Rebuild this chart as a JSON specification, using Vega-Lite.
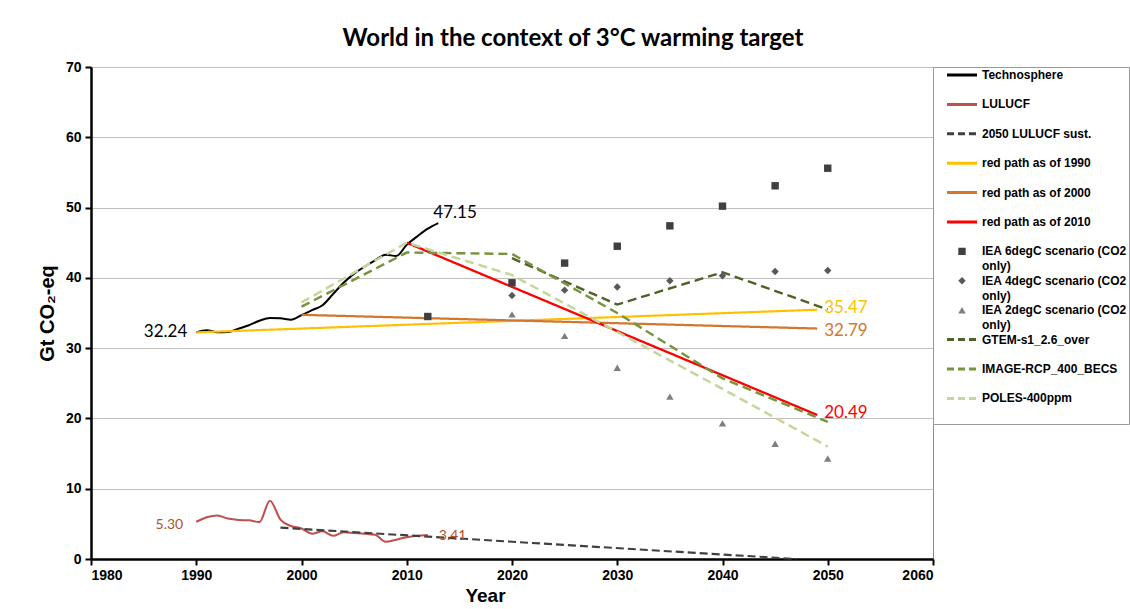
{
  "$schema": "https://vega.github.io/schema/vega-lite/v6.json",
  "width": 842,
  "height": 492,
  "autosize": "none",
  "padding": {"left": 91, "top": 67, "right": 197, "bottom": 50},
  "background": "white",
  "title": {"text": "World in the context of 3°C warming target", "font": "Lato", "fontWeight": "bold", "fontSize": 24, "anchor": "middle", "dx": 61, "offset": 9, "color": "#000000"},
  "datasets": {
    "lines": [
      {"series": "Technosphere", "year": 1990, "value": 32.24},
      {"series": "Technosphere", "year": 1991, "value": 32.55},
      {"series": "Technosphere", "year": 1992, "value": 32.25},
      {"series": "Technosphere", "year": 1993, "value": 32.3},
      {"series": "Technosphere", "year": 1994, "value": 32.75},
      {"series": "Technosphere", "year": 1995, "value": 33.25},
      {"series": "Technosphere", "year": 1996, "value": 33.9},
      {"series": "Technosphere", "year": 1997, "value": 34.3},
      {"series": "Technosphere", "year": 1998, "value": 34.25},
      {"series": "Technosphere", "year": 1999, "value": 34.05},
      {"series": "Technosphere", "year": 2000, "value": 34.7},
      {"series": "Technosphere", "year": 2001, "value": 35.4},
      {"series": "Technosphere", "year": 2002, "value": 36.1},
      {"series": "Technosphere", "year": 2003, "value": 37.7},
      {"series": "Technosphere", "year": 2004, "value": 39.3},
      {"series": "Technosphere", "year": 2005, "value": 40.6},
      {"series": "Technosphere", "year": 2006, "value": 41.6},
      {"series": "Technosphere", "year": 2007, "value": 42.5},
      {"series": "Technosphere", "year": 2008, "value": 43.3},
      {"series": "Technosphere", "year": 2009, "value": 43.1},
      {"series": "Technosphere", "year": 2010, "value": 44.7},
      {"series": "Technosphere", "year": 2011, "value": 45.9},
      {"series": "Technosphere", "year": 2012, "value": 47.0},
      {"series": "Technosphere", "year": 2013, "value": 47.8},
      {"series": "LULUCF", "year": 1990, "value": 5.3},
      {"series": "LULUCF", "year": 1991, "value": 5.95},
      {"series": "LULUCF", "year": 1992, "value": 6.2},
      {"series": "LULUCF", "year": 1993, "value": 5.75},
      {"series": "LULUCF", "year": 1994, "value": 5.55},
      {"series": "LULUCF", "year": 1995, "value": 5.5},
      {"series": "LULUCF", "year": 1996, "value": 5.25},
      {"series": "LULUCF", "year": 1997, "value": 8.3},
      {"series": "LULUCF", "year": 1998, "value": 5.6},
      {"series": "LULUCF", "year": 1999, "value": 4.7},
      {"series": "LULUCF", "year": 2000, "value": 4.35},
      {"series": "LULUCF", "year": 2001, "value": 3.6},
      {"series": "LULUCF", "year": 2002, "value": 3.95},
      {"series": "LULUCF", "year": 2003, "value": 3.3},
      {"series": "LULUCF", "year": 2004, "value": 3.8},
      {"series": "LULUCF", "year": 2005, "value": 3.7},
      {"series": "LULUCF", "year": 2006, "value": 3.6},
      {"series": "LULUCF", "year": 2007, "value": 3.45},
      {"series": "LULUCF", "year": 2008, "value": 2.45},
      {"series": "LULUCF", "year": 2009, "value": 2.75},
      {"series": "LULUCF", "year": 2010, "value": 3.1},
      {"series": "LULUCF", "year": 2011, "value": 3.3},
      {"series": "LULUCF", "year": 2012, "value": 3.41},
      {"series": "2050 LULUCF sust.", "year": 1998, "value": 4.46},
      {"series": "2050 LULUCF sust.", "year": 2047, "value": 0},
      {"series": "red path as of 1990", "year": 1990, "value": 32.24},
      {"series": "red path as of 1990", "year": 2049, "value": 35.47},
      {"series": "red path as of 2000", "year": 2000, "value": 34.74},
      {"series": "red path as of 2000", "year": 2049, "value": 32.79},
      {"series": "red path as of 2010", "year": 2010, "value": 45.0},
      {"series": "red path as of 2010", "year": 2049, "value": 20.49},
      {"series": "GTEM-s1_2.6_over", "year": 2020, "value": 42.8},
      {"series": "GTEM-s1_2.6_over", "year": 2030, "value": 36.2},
      {"series": "GTEM-s1_2.6_over", "year": 2040, "value": 40.8},
      {"series": "GTEM-s1_2.6_over", "year": 2050, "value": 35.5},
      {"series": "IMAGE-RCP_400_BECS", "year": 2000, "value": 35.9},
      {"series": "IMAGE-RCP_400_BECS", "year": 2010, "value": 43.6},
      {"series": "IMAGE-RCP_400_BECS", "year": 2020, "value": 43.4},
      {"series": "IMAGE-RCP_400_BECS", "year": 2030, "value": 35.0},
      {"series": "IMAGE-RCP_400_BECS", "year": 2040, "value": 25.7},
      {"series": "IMAGE-RCP_400_BECS", "year": 2050, "value": 19.5},
      {"series": "POLES-400ppm", "year": 2000, "value": 36.5},
      {"series": "POLES-400ppm", "year": 2010, "value": 45.0},
      {"series": "POLES-400ppm", "year": 2020, "value": 40.4},
      {"series": "POLES-400ppm", "year": 2030, "value": 32.3},
      {"series": "POLES-400ppm", "year": 2040, "value": 24.2},
      {"series": "POLES-400ppm", "year": 2050, "value": 16.0}
    ],
    "points": [
      {"series": "IEA 6degC scenario (CO2 only)", "year": 2012, "value": 34.5},
      {"series": "IEA 6degC scenario (CO2 only)", "year": 2020, "value": 39.3},
      {"series": "IEA 6degC scenario (CO2 only)", "year": 2025, "value": 42.1},
      {"series": "IEA 6degC scenario (CO2 only)", "year": 2030, "value": 44.5},
      {"series": "IEA 6degC scenario (CO2 only)", "year": 2035, "value": 47.4},
      {"series": "IEA 6degC scenario (CO2 only)", "year": 2040, "value": 50.2},
      {"series": "IEA 6degC scenario (CO2 only)", "year": 2045, "value": 53.1},
      {"series": "IEA 6degC scenario (CO2 only)", "year": 2050, "value": 55.6},
      {"series": "IEA 4degC scenario (CO2 only)", "year": 2020, "value": 37.5},
      {"series": "IEA 4degC scenario (CO2 only)", "year": 2025, "value": 38.25},
      {"series": "IEA 4degC scenario (CO2 only)", "year": 2030, "value": 38.7},
      {"series": "IEA 4degC scenario (CO2 only)", "year": 2035, "value": 39.6},
      {"series": "IEA 4degC scenario (CO2 only)", "year": 2040, "value": 40.3},
      {"series": "IEA 4degC scenario (CO2 only)", "year": 2045, "value": 40.9},
      {"series": "IEA 4degC scenario (CO2 only)", "year": 2050, "value": 41.05},
      {"series": "IEA 2degC scenario (CO2 only)", "year": 2020, "value": 34.8},
      {"series": "IEA 2degC scenario (CO2 only)", "year": 2025, "value": 31.75},
      {"series": "IEA 2degC scenario (CO2 only)", "year": 2030, "value": 27.2},
      {"series": "IEA 2degC scenario (CO2 only)", "year": 2035, "value": 23.1},
      {"series": "IEA 2degC scenario (CO2 only)", "year": 2040, "value": 19.3},
      {"series": "IEA 2degC scenario (CO2 only)", "year": 2045, "value": 16.4},
      {"series": "IEA 2degC scenario (CO2 only)", "year": 2050, "value": 14.3}
    ],
    "labels": [
      {"series": "Technosphere", "year": 1990, "value": 32.24, "label": "32.24"},
      {"series": "Technosphere", "year": 2013, "value": 47.8, "label": "47.15"},
      {"series": "LULUCF", "year": 1990, "value": 5.3, "label": "5.30"},
      {"series": "LULUCF", "year": 2012, "value": 3.41, "label": "3.41"},
      {"series": "red path as of 1990", "year": 2049, "value": 35.47, "label": "35.47"},
      {"series": "red path as of 2000", "year": 2049, "value": 32.79, "label": "32.79"},
      {"series": "red path as of 2010", "year": 2049, "value": 20.49, "label": "20.49"}
    ]
  },
  "encoding": {
    "x": {"field": "year", "type": "quantitative",
      "scale": {"domain": [1980, 2060], "nice": false, "zero": false},
      "axis": {"values": [1980, 1990, 2000, 2010, 2020, 2030, 2040, 2050, 2060], "format": "d", "grid": false, "title": "Year", "titlePadding": 4, "titleX": 394, "labelPadding": 3}},
    "y": {"field": "value", "type": "quantitative",
      "scale": {"domain": [0, 70], "nice": false},
      "axis": {"values": [0, 10, 20, 30, 40, 50, 60, 70], "grid": true, "gridColor": "#BFBFBF", "gridWidth": 1, "title": "Gt CO₂-eq", "titlePadding": 8, "titleFontSize": 20, "labelPadding": 4}},
    "color": {"field": "series", "type": "nominal",
      "scale": {
        "domain": ["Technosphere", "LULUCF", "2050 LULUCF sust.", "red path as of 1990", "red path as of 2000", "red path as of 2010", "IEA 6degC scenario (CO2 only)", "IEA 4degC scenario (CO2 only)", "IEA 2degC scenario (CO2 only)", "GTEM-s1_2.6_over", "IMAGE-RCP_400_BECS", "POLES-400ppm"],
        "range": ["#000000", "#C0504D", "#404040", "#FFC000", "#D2772C", "#FF0000", "#404040", "#595959", "#7F7F7F", "#4F6228", "#77933C", "#C3D69B"]},
      "legend": {
        "orient": "none", "legendX": 842, "legendY": 0, "title": null,
        "strokeColor": "#9A9A9A", "fillColor": "white", "padding": 2,
        "labelFont": "Liberation Sans", "labelFontWeight": "bold", "labelFontSize": 12, "labelColor": "#000000", "labelLimit": 220, "labelOffset": 14,
        "symbolType": "stroke", "symbolSize": 81, "symbolStrokeWidth": 3, "symbolOffset": 21, "rowPadding": 0.4, "clipHeight": 29,
        "labelExpr": "indexof('' + datum.label, ' (CO2 only)') > 0 ? [replace('' + datum.label, ' only)', ''), 'only)'] : datum.label",
        "encode": {
          "symbols": {"update": {
            "shape": {"signal": "indexof('' + datum.value, 'IEA 6') == 0 ? 'square' : indexof('' + datum.value, 'IEA 4') == 0 ? 'diamond' : indexof('' + datum.value, 'IEA 2') == 0 ? 'triangle-up' : 'M-3.333,0H3.333'"},
            "size": {"signal": "indexof('' + datum.value, 'IEA') == 0 ? 55 : 81"},
            "fill": {"signal": "indexof('' + datum.value, 'IEA 6') == 0 ? '#404040' : indexof('' + datum.value, 'IEA 4') == 0 ? '#595959' : indexof('' + datum.value, 'IEA 2') == 0 ? '#7F7F7F' : 'transparent'"},
            "strokeWidth": {"signal": "indexof('' + datum.value, 'IEA') == 0 ? 0 : 3"},
            "strokeDash": {"signal": "indexof(['2050 LULUCF sust.', 'GTEM-s1_2.6_over', 'IMAGE-RCP_400_BECS', 'POLES-400ppm'], '' + datum.value) >= 0 ? [7, 4] : [1, 0]"},
            "y": {"value": 6}
          }},
          "labels": {"update": {
            "y": {"value": 6},
            "lineHeight": {"value": 15}
          }}
        }
      }
    }
  },
  "layer": [
    {
      "data": {"name": "lines"},
      "transform": [{"filter": "datum.series == 'Technosphere' || datum.series == 'LULUCF'"}],
      "mark": {"type": "line", "interpolate": "monotone"},
      "encoding": {
        "strokeWidth": {"field": "series", "type": "nominal", "scale": {"domain": ["Technosphere", "LULUCF"], "range": [2, 2.5]}, "legend": null}
      }
    },
    {
      "data": {"name": "lines"},
      "transform": [{"filter": "datum.series != 'Technosphere' && datum.series != 'LULUCF'"}],
      "mark": {"type": "line", "interpolate": "linear"},
      "encoding": {
        "strokeDash": {"field": "series", "type": "nominal",
          "scale": {"domain": ["2050 LULUCF sust.", "red path as of 1990", "red path as of 2000", "red path as of 2010", "GTEM-s1_2.6_over", "IMAGE-RCP_400_BECS", "POLES-400ppm"],
            "range": [[8, 4], [1, 0], [1, 0], [1, 0], [9, 5], [9, 5], [9, 5]]}, "legend": null},
        "strokeWidth": {"field": "series", "type": "nominal",
          "scale": {"domain": ["2050 LULUCF sust.", "red path as of 1990", "red path as of 2000", "red path as of 2010", "GTEM-s1_2.6_over", "IMAGE-RCP_400_BECS", "POLES-400ppm"],
            "range": [3, 2.2, 2.2, 2.2, 3, 3, 3]}, "legend": null}
      }
    },
    {
      "data": {"name": "points"},
      "mark": {"type": "point", "filled": true, "opacity": 1, "size": 55},
      "encoding": {
        "shape": {"field": "series", "type": "nominal",
          "scale": {"domain": ["IEA 6degC scenario (CO2 only)", "IEA 4degC scenario (CO2 only)", "IEA 2degC scenario (CO2 only)"], "range": ["square", "diamond", "triangle-up"]}, "legend": null}
      }
    },
    {
      "data": {"name": "labels"},
      "transform": [{"filter": "datum.label == '32.24'"}],
      "mark": {"type": "text", "align": "right", "baseline": "middle", "dx": -9, "dy": 0, "font": "Lato", "fontSize": 17},
      "encoding": {"text": {"field": "label"}, "color": {"value": "#000000"}}
    },
    {
      "data": {"name": "labels"},
      "transform": [{"filter": "datum.label == '47.15'"}],
      "mark": {"type": "text", "align": "left", "baseline": "middle", "dx": -5, "dy": -10, "font": "Lato", "fontSize": 17},
      "encoding": {"text": {"field": "label"}, "color": {"value": "#000000"}}
    },
    {
      "data": {"name": "labels"},
      "transform": [{"filter": "datum.label == '5.30'"}],
      "mark": {"type": "text", "align": "right", "baseline": "middle", "dx": -13, "dy": 3, "font": "Lato", "fontSize": 14},
      "encoding": {"text": {"field": "label"}, "color": {"value": "#B8501E"}}
    },
    {
      "data": {"name": "labels"},
      "transform": [{"filter": "datum.label == '3.41'"}],
      "mark": {"type": "text", "align": "left", "baseline": "middle", "dx": 11, "dy": 1, "font": "Lato", "fontSize": 14},
      "encoding": {"text": {"field": "label"}, "color": {"value": "#B8501E"}}
    },
    {
      "data": {"name": "labels"},
      "transform": [{"filter": "datum.label == '35.47'"}],
      "mark": {"type": "text", "align": "left", "baseline": "middle", "dx": 7, "dy": -2, "font": "Lato", "fontSize": 17},
      "encoding": {"text": {"field": "label"}, "color": {"value": "#FFC000"}}
    },
    {
      "data": {"name": "labels"},
      "transform": [{"filter": "datum.label == '32.79'"}],
      "mark": {"type": "text", "align": "left", "baseline": "middle", "dx": 7, "dy": 2, "font": "Lato", "fontSize": 17},
      "encoding": {"text": {"field": "label"}, "color": {"value": "#D2772C"}}
    },
    {
      "data": {"name": "labels"},
      "transform": [{"filter": "datum.label == '20.49'"}],
      "mark": {"type": "text", "align": "left", "baseline": "middle", "dx": 7, "dy": -2, "font": "Lato", "fontSize": 17},
      "encoding": {"text": {"field": "label"}, "color": {"value": "#FF0000"}}
    }
  ],
  "config": {
    "view": {"stroke": "#8C8C8C", "strokeWidth": 1},
    "axis": {
      "labelFont": "Liberation Sans", "labelFontWeight": "bold", "labelFontSize": 14, "labelColor": "#000000",
      "titleFont": "Liberation Sans", "titleFontWeight": "bold", "titleFontSize": 19, "titleColor": "#000000",
      "domainColor": "#000000", "domainWidth": 2.5, "tickColor": "#000000", "tickWidth": 2, "tickSize": 6
    }
  }
}
